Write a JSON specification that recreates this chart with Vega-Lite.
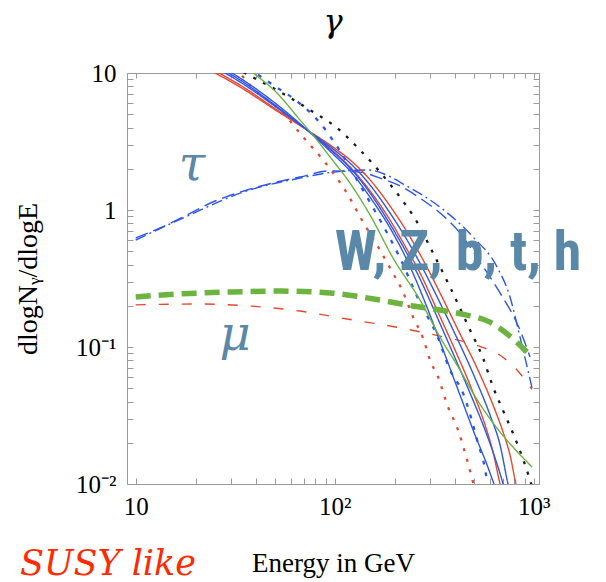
{
  "$schema": "https://vega.github.io/schema/vega-lite/v6.json",
  "width": 412,
  "height": 411,
  "autosize": "none",
  "padding": {"left": 127, "top": 73, "right": 67, "bottom": 98},
  "background": "white",
  "config": {
    "view": {"stroke": "#9a9a9a", "strokeWidth": 1},
    "axis": {"grid": false, "domain": false}
  },
  "title": {
    "text": "γ",
    "font": "DejaVu Serif, Liberation Serif, serif",
    "fontSize": 32,
    "fontStyle": "italic",
    "fontWeight": "normal",
    "color": "black",
    "anchor": "middle",
    "frame": "group",
    "offset": 22
  },
  "datasets": {
    "curves": [
      {"s": "black dotted", "E": 31.2, "v": 11.06}, {"s": "black dotted", "E": 35.4, "v": 10.0}, {"s": "black dotted", "E": 53.1, "v": 7.27}, {"s": "black dotted", "E": 75.1, "v": 5.37}, {"s": "black dotted", "E": 102.7, "v": 3.97}, {"s": "black dotted", "E": 134, "v": 2.74}, {"s": "black dotted", "E": 168.9, "v": 1.89}, {"s": "black dotted", "E": 212.9, "v": 1.24}, {"s": "black dotted", "E": 259.2, "v": 0.817}, {"s": "black dotted", "E": 301.2, "v": 0.537}, {"s": "black dotted", "E": 379.7, "v": 0.274}, {"s": "black dotted", "E": 478.6, "v": 0.133}, {"s": "black dotted", "E": 556, "v": 0.0831}, {"s": "black dotted", "E": 624.5, "v": 0.0511}, {"s": "black dotted", "E": 717.5, "v": 0.0319}, {"s": "black dotted", "E": 824, "v": 0.0199}, {"s": "black dotted", "E": 958, "v": 0.0107}, {"s": "black dotted", "E": 992, "v": 0.00904},

      {"s": "blue dotted", "E": 36.7, "v": 10.88}, {"s": "blue dotted", "E": 49.0, "v": 8.17}, {"s": "blue dotted", "E": 65.4, "v": 6.14}, {"s": "blue dotted", "E": 84.4, "v": 4.32}, {"s": "blue dotted", "E": 103.9, "v": 2.84}, {"s": "blue dotted", "E": 134, "v": 1.52}, {"s": "blue dotted", "E": 168.9, "v": 0.845}, {"s": "blue dotted", "E": 212.9, "v": 0.446}, {"s": "blue dotted", "E": 268.4, "v": 0.21}, {"s": "blue dotted", "E": 326.7, "v": 0.122}, {"s": "blue dotted", "E": 379.7, "v": 0.0679}, {"s": "blue dotted", "E": 441.3, "v": 0.0461}, {"s": "blue dotted", "E": 519, "v": 0.021}, {"s": "blue dotted", "E": 582.6, "v": 0.0103}, {"s": "blue dotted", "E": 589, "v": 0.00904},

      {"s": "red dotted", "E": 31.6, "v": 11.06}, {"s": "red dotted", "E": 33.4, "v": 10.0}, {"s": "red dotted", "E": 37.5, "v": 8.17}, {"s": "red dotted", "E": 55.0, "v": 5.11}, {"s": "red dotted", "E": 69.3, "v": 3.41}, {"s": "red dotted", "E": 87.4, "v": 2.32}, {"s": "red dotted", "E": 116.6, "v": 1.29}, {"s": "red dotted", "E": 138.8, "v": 0.817}, {"s": "red dotted", "E": 163.2, "v": 0.555}, {"s": "red dotted", "E": 189.6, "v": 0.377}, {"s": "red dotted", "E": 217.9, "v": 0.261}, {"s": "red dotted", "E": 247.5, "v": 0.166}, {"s": "red dotted", "E": 277.9, "v": 0.116}, {"s": "red dotted", "E": 301.2, "v": 0.0804}, {"s": "red dotted", "E": 330.5, "v": 0.0604}, {"s": "red dotted", "E": 371, "v": 0.0365}, {"s": "red dotted", "E": 416.5, "v": 0.0248}, {"s": "red dotted", "E": 462.3, "v": 0.015}, {"s": "red dotted", "E": 495.5, "v": 0.0103}, {"s": "red dotted", "E": 507, "v": 0.00904},

      {"s": "red dashed", "E": 10, "v": 0.203}, {"s": "red dashed", "E": 21.05, "v": 0.206}, {"s": "red dashed", "E": 37.5, "v": 0.199}, {"s": "red dashed", "E": 66.9, "v": 0.183}, {"s": "red dashed", "E": 115.3, "v": 0.16}, {"s": "red dashed", "E": 212.9, "v": 0.138}, {"s": "red dashed", "E": 338, "v": 0.12}, {"s": "red dashed", "E": 537, "v": 0.101}, {"s": "red dashed", "E": 677, "v": 0.087}, {"s": "red dashed", "E": 824, "v": 0.068}, {"s": "red dashed", "E": 981, "v": 0.049},

      {"s": "blue dashed", "E": 10, "v": 0.625}, {"s": "blue dashed", "E": 13.25, "v": 0.739}, {"s": "blue dashed", "E": 17.29, "v": 0.889}, {"s": "blue dashed", "E": 23.63, "v": 1.12}, {"s": "blue dashed", "E": 36.25, "v": 1.4}, {"s": "blue dashed", "E": 51.3, "v": 1.6}, {"s": "blue dashed", "E": 66.9, "v": 1.74}, {"s": "blue dashed", "E": 94.7, "v": 1.93}, {"s": "blue dashed", "E": 134, "v": 1.89}, {"s": "blue dashed", "E": 168.9, "v": 1.71}, {"s": "blue dashed", "E": 212.9, "v": 1.5}, {"s": "blue dashed", "E": 268.4, "v": 1.22}, {"s": "blue dashed", "E": 338.2, "v": 0.951}, {"s": "blue dashed", "E": 426.2, "v": 0.679}, {"s": "blue dashed", "E": 537.4, "v": 0.417}, {"s": "blue dashed", "E": 677.2, "v": 0.248}, {"s": "blue dashed", "E": 853.5, "v": 0.133}, {"s": "blue dashed", "E": 958, "v": 0.0845},

      {"s": "blue dash-dot", "E": 10, "v": 0.604}, {"s": "blue dash-dot", "E": 17.29, "v": 0.874}, {"s": "blue dash-dot", "E": 36.25, "v": 1.38}, {"s": "blue dash-dot", "E": 66.9, "v": 1.71}, {"s": "blue dash-dot", "E": 98.1, "v": 1.89}, {"s": "blue dash-dot", "E": 145.3, "v": 1.96}, {"s": "blue dash-dot", "E": 239, "v": 1.45}, {"s": "blue dash-dot", "E": 338, "v": 1.05}, {"s": "blue dash-dot", "E": 495.5, "v": 0.635}, {"s": "blue dash-dot", "E": 654, "v": 0.384}, {"s": "blue dash-dot", "E": 760, "v": 0.232}, {"s": "blue dash-dot", "E": 853.5, "v": 0.118}, {"s": "blue dash-dot", "E": 981, "v": 0.0502},

      {"s": "red solid A", "E": 21.05, "v": 11.44}, {"s": "red solid A", "E": 33.43, "v": 7.9}, {"s": "red solid A", "E": 53.1, "v": 5.11}, {"s": "red solid A", "E": 72.6, "v": 3.84}, {"s": "red solid A", "E": 98.1, "v": 2.88}, {"s": "red solid A", "E": 119.4, "v": 2.32}, {"s": "red solid A", "E": 150.5, "v": 1.66}, {"s": "red solid A", "E": 189.6, "v": 1.07}, {"s": "red solid A", "E": 230.9, "v": 0.691}, {"s": "red solid A", "E": 274.7, "v": 0.446}, {"s": "red solid A", "E": 338.2, "v": 0.248}, {"s": "red solid A", "E": 411.7, "v": 0.138}, {"s": "red solid A", "E": 519, "v": 0.0703}, {"s": "red solid A", "E": 624.5, "v": 0.0377}, {"s": "red solid A", "E": 701, "v": 0.024}, {"s": "red solid A", "E": 760, "v": 0.0163}, {"s": "red solid A", "E": 814.7, "v": 0.01}, {"s": "red solid A", "E": 835, "v": 0.00874},

      {"s": "red solid B", "E": 21.05, "v": 11.83}, {"s": "red solid B", "E": 33.43, "v": 8.17}, {"s": "red solid B", "E": 53.1, "v": 5.19}, {"s": "red solid B", "E": 72.6, "v": 3.84}, {"s": "red solid B", "E": 98.1, "v": 2.7}, {"s": "red solid B", "E": 119.4, "v": 2.06}, {"s": "red solid B", "E": 150.5, "v": 1.38}, {"s": "red solid B", "E": 189.6, "v": 0.845}, {"s": "red solid B", "E": 225.6, "v": 0.546}, {"s": "red solid B", "E": 268.4, "v": 0.347}, {"s": "red solid B", "E": 326.7, "v": 0.186}, {"s": "red solid B", "E": 402.3, "v": 0.0951}, {"s": "red solid B", "E": 478.6, "v": 0.0528}, {"s": "red solid B", "E": 569.3, "v": 0.027}, {"s": "red solid B", "E": 624.5, "v": 0.0171}, {"s": "red solid B", "E": 677.2, "v": 0.01}, {"s": "red solid B", "E": 693, "v": 0.00874},

      {"s": "blue solid A", "E": 21.05, "v": 12.44}, {"s": "blue solid A", "E": 33.43, "v": 8.6}, {"s": "blue solid A", "E": 53.1, "v": 5.37}, {"s": "blue solid A", "E": 72.6, "v": 3.84}, {"s": "blue solid A", "E": 98.1, "v": 2.79}, {"s": "blue solid A", "E": 119.4, "v": 2.2}, {"s": "blue solid A", "E": 150.5, "v": 1.52}, {"s": "blue solid A", "E": 189.6, "v": 0.951}, {"s": "blue solid A", "E": 230.9, "v": 0.604}, {"s": "blue solid A", "E": 274.7, "v": 0.384}, {"s": "blue solid A", "E": 338.2, "v": 0.21}, {"s": "blue solid A", "E": 411.7, "v": 0.116}, {"s": "blue solid A", "E": 507, "v": 0.0594}, {"s": "blue solid A", "E": 603.1, "v": 0.0319}, {"s": "blue solid A", "E": 677.2, "v": 0.0193}, {"s": "blue solid A", "E": 742.8, "v": 0.01}, {"s": "blue solid A", "E": 760, "v": 0.00874},

      {"s": "blue solid B", "E": 21.05, "v": 12.87}, {"s": "blue solid B", "E": 33.43, "v": 8.89}, {"s": "blue solid B", "E": 53.1, "v": 5.46}, {"s": "blue solid B", "E": 72.6, "v": 3.84}, {"s": "blue solid B", "E": 98.1, "v": 2.65}, {"s": "blue solid B", "E": 119.4, "v": 2.03}, {"s": "blue solid B", "E": 150.5, "v": 1.33}, {"s": "blue solid B", "E": 189.6, "v": 0.79}, {"s": "blue solid B", "E": 225.6, "v": 0.511}, {"s": "blue solid B", "E": 268.4, "v": 0.314}, {"s": "blue solid B", "E": 326.7, "v": 0.166}, {"s": "blue solid B", "E": 402.3, "v": 0.0831}, {"s": "blue solid B", "E": 478.6, "v": 0.0461}, {"s": "blue solid B", "E": 569.3, "v": 0.0248}, {"s": "blue solid B", "E": 639, "v": 0.0155}, {"s": "blue solid B", "E": 701, "v": 0.01}, {"s": "blue solid B", "E": 717.5, "v": 0.00874},

      {"s": "blue solid C", "E": 21.05, "v": 13.5}, {"s": "blue solid C", "E": 33.43, "v": 9.19}, {"s": "blue solid C", "E": 53.1, "v": 5.65}, {"s": "blue solid C", "E": 72.6, "v": 3.84}, {"s": "blue solid C", "E": 98.1, "v": 2.56}, {"s": "blue solid C", "E": 119.4, "v": 1.93}, {"s": "blue solid C", "E": 150.5, "v": 1.24}, {"s": "blue solid C", "E": 189.6, "v": 0.739}, {"s": "blue solid C", "E": 225.6, "v": 0.461}, {"s": "blue solid C", "E": 253.3, "v": 0.319}, {"s": "blue solid C", "E": 301.2, "v": 0.171}, {"s": "blue solid C", "E": 358.4, "v": 0.0874}, {"s": "blue solid C", "E": 426.2, "v": 0.0446}, {"s": "blue solid C", "E": 507, "v": 0.0228}, {"s": "blue solid C", "E": 582.6, "v": 0.0138}, {"s": "blue solid C", "E": 631.6, "v": 0.01}, {"s": "blue solid C", "E": 654.1, "v": 0.00874},

      {"s": "green solid", "E": 36.25, "v": 10.88}, {"s": "green solid", "E": 38.4, "v": 10.17}, {"s": "green solid", "E": 51.3, "v": 7.14}, {"s": "green solid", "E": 66.9, "v": 4.54}, {"s": "green solid", "E": 81.5, "v": 3.24}, {"s": "green solid", "E": 94.7, "v": 2.44}, {"s": "green solid", "E": 119.4, "v": 1.57}, {"s": "green solid", "E": 150.5, "v": 0.919}, {"s": "green solid", "E": 196.3, "v": 0.446}, {"s": "green solid", "E": 268.4, "v": 0.22}, {"s": "green solid", "E": 338.2, "v": 0.118}, {"s": "green solid", "E": 426.2, "v": 0.0679}, {"s": "green solid", "E": 495.5, "v": 0.0461}, {"s": "green solid", "E": 624.5, "v": 0.0279}, {"s": "green solid", "E": 787, "v": 0.0186}, {"s": "green solid", "E": 981, "v": 0.0133},

      {"s": "green dashed", "E": 10, "v": 0.232}, {"s": "green dashed", "E": 16.7, "v": 0.244}, {"s": "green dashed", "E": 29.8, "v": 0.252}, {"s": "green dashed", "E": 53.1, "v": 0.256}, {"s": "green dashed", "E": 94.7, "v": 0.248}, {"s": "green dashed", "E": 168.9, "v": 0.22}, {"s": "green dashed", "E": 247.5, "v": 0.199}, {"s": "green dashed", "E": 338, "v": 0.186}, {"s": "green dashed", "E": 462, "v": 0.171}, {"s": "green dashed", "E": 603, "v": 0.152}, {"s": "green dashed", "E": 760, "v": 0.12}, {"s": "green dashed", "E": 925, "v": 0.092}
    ]
  },
  "resolve": {"axis": {"x": "independent", "y": "independent"}},
  "layer": [
    {
      "data": {"name": "curves"},
      "transform": [{"filter": {"field": "s", "oneOf": ["black dotted", "blue dotted", "red dotted"]}}],
      "mark": {"type": "line", "clip": true, "interpolate": "monotone", "strokeWidth": 2.3},
      "encoding": {
        "x": {
          "field": "E", "type": "quantitative",
          "scale": {"type": "log", "domain": [9.04, 1063], "nice": false},
          "axis": {
            "orient": "bottom",
            "values": [10, 20, 30, 40, 50, 60, 70, 80, 90, 100, 200, 300, 400, 500, 600, 700, 800, 900, 1000],
            "labelExpr": "datum.value == 10 ? '10' : datum.value == 100 ? '10²' : datum.value == 1000 ? '10³' : ''",
            "tickSize": -6, "tickColor": "#9a9a9a", "labelPadding": 16,
            "labelFont": "Liberation Serif", "labelFontSize": 25, "labelColor": "black",
            "labelOverlap": false, "labelFlush": false, "labelBound": false,
            "title": "Energy in GeV", "titleFont": "Liberation Serif", "titleFontSize": 27,
            "titleFontWeight": "normal", "titleColor": "black", "titlePadding": 31
          }
        },
        "y": {
          "field": "v", "type": "quantitative",
          "scale": {"type": "log", "domain": [0.01, 10], "nice": false},
          "axis": {
            "orient": "left",
            "values": [0.01, 0.02, 0.03, 0.04, 0.05, 0.06, 0.07, 0.08, 0.09, 0.1, 0.2, 0.3, 0.4, 0.5, 0.6, 0.7, 0.8, 0.9, 1, 2, 3, 4, 5, 6, 7, 8, 9, 10],
            "labelExpr": "datum.value == 10 ? '10' : datum.value == 1 ? '1' : datum.value == 0.1 ? '10⁻¹' : datum.value == 0.01 ? '10⁻²' : ''",
            "tickSize": -6, "tickColor": "#9a9a9a", "labelPadding": 17,
            "labelFont": "Liberation Serif", "labelFontSize": 25, "labelColor": "black",
            "labelOverlap": false, "labelFlush": false, "labelBound": false,
            "title": "dlogNᵧ/dlogE", "titleFont": "Liberation Serif", "titleFontSize": 28,
            "titleFontWeight": "normal", "titleColor": "black", "titlePadding": 33
          }
        },
        "detail": {"field": "s"},
        "color": {
          "field": "s", "type": "nominal", "legend": null,
          "scale": {
            "domain": ["black dotted", "blue dotted", "red dotted", "red dashed", "blue dashed", "blue dash-dot", "red solid A", "red solid B", "blue solid A", "blue solid B", "blue solid C", "green solid", "green dashed"],
            "range": ["#1a1a1a", "#2d56ee", "#e8472f", "#e8472f", "#2d56ee", "#2d56ee", "#e8472f", "#e8472f", "#2d56ee", "#2d56ee", "#2d56ee", "#6cb33f", "#6cb33f"]
          }
        },
        "strokeDash": {
          "field": "s", "type": "nominal", "legend": null,
          "scale": {
            "domain": ["black dotted", "blue dotted", "red dotted", "red dashed", "blue dashed", "blue dash-dot", "red solid A", "red solid B", "blue solid A", "blue solid B", "blue solid C", "green solid", "green dashed"],
            "range": [[3, 8], [4, 8], [3, 8], [10, 13], [13, 6], [11, 4, 2, 4], [1, 0], [1, 0], [1, 0], [1, 0], [1, 0], [1, 0], [15, 8]]
          }
        }
      }
    },
    {
      "data": {"name": "curves"},
      "transform": [{"filter": {"field": "s", "oneOf": ["red dashed", "blue dashed", "blue dash-dot", "red solid A", "red solid B", "blue solid A", "blue solid B", "blue solid C", "green solid"]}}],
      "mark": {"type": "line", "clip": true, "interpolate": "monotone", "strokeWidth": 1.4},
      "encoding": {
        "x": {
          "field": "E", "type": "quantitative",
          "scale": {"type": "log", "domain": [9.04, 1063], "nice": false},
          "axis": {
            "orient": "top",
            "values": [10, 20, 30, 40, 50, 60, 70, 80, 90, 100, 200, 300, 400, 500, 600, 700, 800, 900, 1000],
            "labels": false, "tickSize": -5, "tickColor": "#9a9a9a", "title": null
          }
        },
        "y": {
          "field": "v", "type": "quantitative",
          "scale": {"type": "log", "domain": [0.01, 10], "nice": false},
          "axis": {
            "orient": "right",
            "values": [0.01, 0.02, 0.03, 0.04, 0.05, 0.06, 0.07, 0.08, 0.09, 0.1, 0.2, 0.3, 0.4, 0.5, 0.6, 0.7, 0.8, 0.9, 1, 2, 3, 4, 5, 6, 7, 8, 9, 10],
            "labels": false, "tickSize": -6, "tickColor": "#9a9a9a", "title": null
          }
        },
        "detail": {"field": "s"},
        "color": {"field": "s", "type": "nominal", "legend": null},
        "strokeDash": {"field": "s", "type": "nominal", "legend": null}
      }
    },
    {
      "data": {"name": "curves"},
      "transform": [{"filter": {"field": "s", "equal": "green dashed"}}],
      "mark": {"type": "line", "clip": true, "interpolate": "monotone", "strokeWidth": 5.5},
      "encoding": {
        "x": {"field": "E", "type": "quantitative", "scale": {"type": "log", "domain": [9.04, 1063], "nice": false}, "axis": null},
        "y": {"field": "v", "type": "quantitative", "scale": {"type": "log", "domain": [0.01, 10], "nice": false}, "axis": null},
        "color": {"field": "s", "type": "nominal", "legend": null},
        "strokeDash": {"field": "s", "type": "nominal", "legend": null}
      }
    },
    {
      "data": {"values": [{"label": "W, Z, b, t, h", "E": 100, "v": 0.365}]},
      "mark": {
        "type": "text", "align": "left", "baseline": "alphabetic",
        "font": "Roboto Condensed, Roboto, sans-serif",
        "fontWeight": "bold", "fontSize": 56, "color": "#5a88a8"
      },
      "encoding": {
        "x": {"field": "E", "type": "quantitative", "scale": {"type": "log", "domain": [9.04, 1063], "nice": false}, "axis": null},
        "y": {"field": "v", "type": "quantitative", "scale": {"type": "log", "domain": [0.01, 10], "nice": false}, "axis": null},
        "text": {"field": "label"}
      }
    },
    {
      "data": {"values": [{"label": "τ", "E": 19.2, "v": 1.656}, {"label": "μ", "E": 31.6, "v": 0.0951}]},
      "mark": {
        "type": "text", "align": "center", "baseline": "alphabetic",
        "font": "DejaVu Serif, Liberation Serif, serif", "fontStyle": "italic", "fontSize": 48, "color": "#5a88a8"
      },
      "encoding": {
        "x": {"field": "E", "type": "quantitative", "scale": {"type": "log", "domain": [9.04, 1063], "nice": false}, "axis": null},
        "y": {"field": "v", "type": "quantitative", "scale": {"type": "log", "domain": [0.01, 10], "nice": false}, "axis": null},
        "text": {"field": "label"}
      }
    },
    {
      "data": {"values": [{"label": "SUSY like", "E": 2.62, "v": 0.00215}]},
      "mark": {
        "type": "text", "align": "left", "baseline": "alphabetic",
        "font": "DejaVu Serif, Liberation Serif, serif", "fontStyle": "italic", "fontSize": 35, "color": "#ff2a00"
      },
      "encoding": {
        "x": {"field": "E", "type": "quantitative", "scale": {"type": "log", "domain": [9.04, 1063], "nice": false}, "axis": null},
        "y": {"field": "v", "type": "quantitative", "scale": {"type": "log", "domain": [0.01, 10], "nice": false}, "axis": null},
        "text": {"field": "label"}
      }
    }
  ]
}
